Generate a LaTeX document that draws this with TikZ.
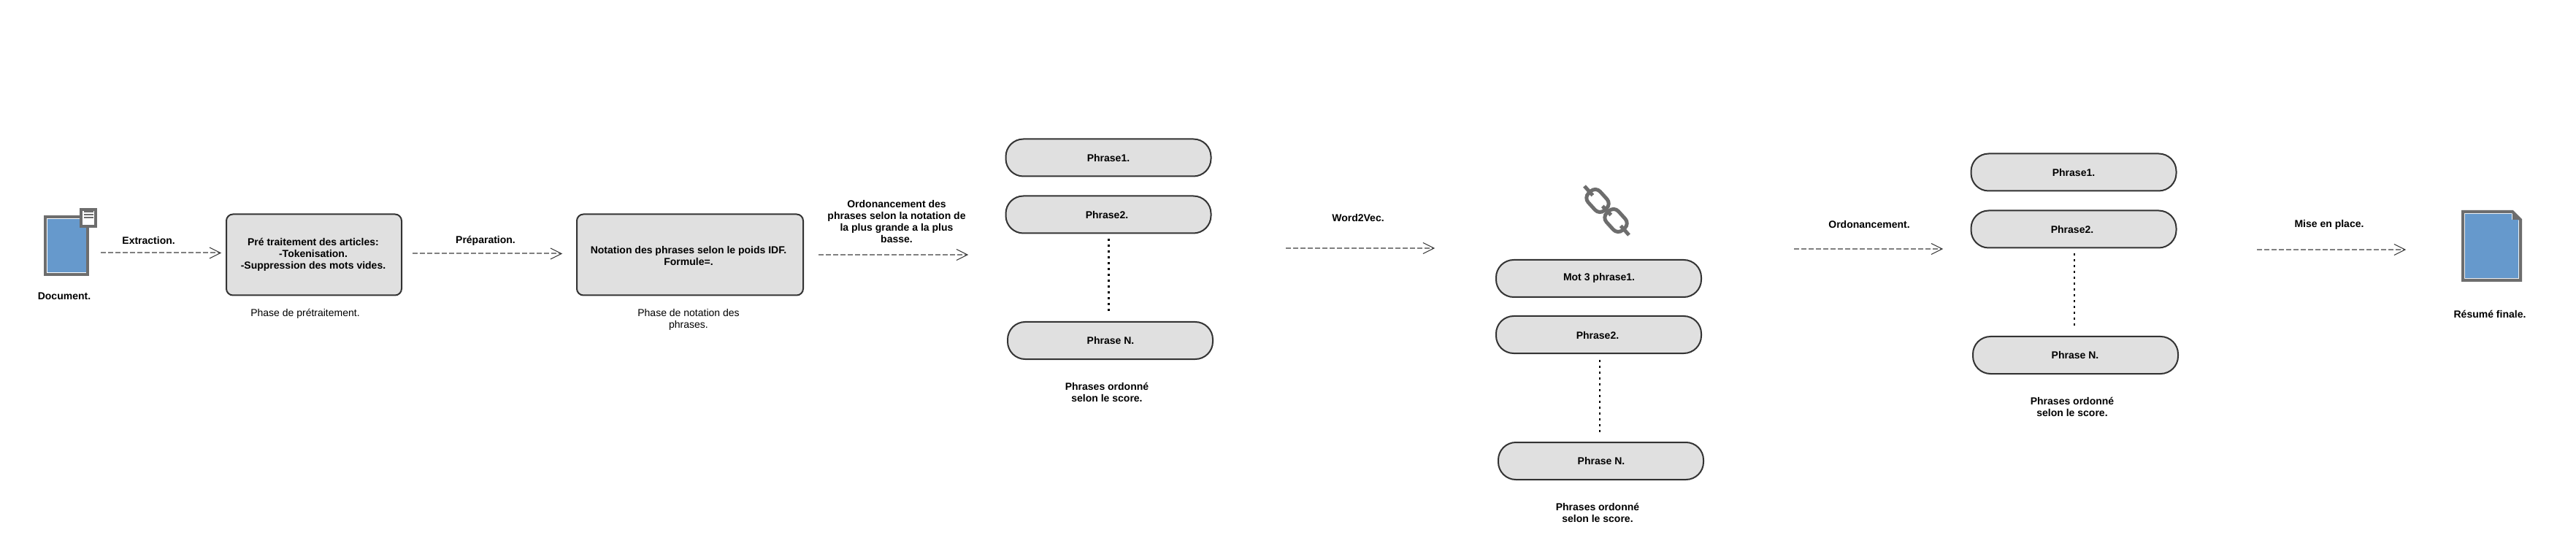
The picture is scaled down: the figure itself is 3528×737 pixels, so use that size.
\documentclass[tikz,border=0pt]{standalone}
\usepackage{fontspec}
\setmainfont{Liberation Sans}
\usetikzlibrary{arrows.meta}
\definecolor{boxfill}{HTML}{E0E0E0}
\definecolor{boxline}{HTML}{333333}
\definecolor{docblue}{HTML}{6699CC}
\definecolor{docgrey}{HTML}{6D6D6D}
\definecolor{flowgrey}{HTML}{808080}
\tikzset{
  x=0.5pt,y=-0.5pt,
  lbl/.style={font=\fontsize{7}{8}\selectfont\bfseries,align=center,inner sep=0pt,outer sep=0pt},
  captxt/.style={font=\fontsize{7}{8}\selectfont,align=center,inner sep=0pt,outer sep=0pt},
  procbox/.style={draw=boxline,fill=boxfill,line width=1pt,rounded corners=4.5pt,inner sep=0pt,outer sep=0pt,minimum height=55.5pt},
  pill/.style={draw=boxline,fill=boxfill,line width=1pt,rounded corners=12pt,inner sep=0pt,outer sep=0pt,minimum width=140.5pt,minimum height=25.5pt},
  flow/.style={draw=flowgrey,line width=1pt,dash pattern=on 3.5pt off 1.5pt,
    -{Straight Barb[length=7.5pt,width=7.5pt,color=boxline,line width=0.5pt]}},
  dotline/.style={draw=black,line width=1.2pt,dash pattern=on 1.3pt off 2.7pt},
  linkring/.style={draw=docgrey,line width=2.5pt,rounded corners=4.5pt,inner sep=0pt,outer sep=0pt,minimum width=16pt,minimum height=11pt,rotate=-47.7},
  chainbar/.style={draw=docgrey,line width=2.5pt},
  sheet/.style={draw=docgrey,line width=2pt,fill=white,inner sep=0pt,outer sep=0pt},
  sheetrule/.style={draw=docgrey,line width=0.8pt},
}
\begin{document}
\begin{tikzpicture}
\useasboundingbox (0,0) rectangle (3528,737);
\fill[white] (0,0) rectangle (3528,737);

% --- source document icon
\node[sheet,minimum width=29pt,minimum height=39.5pt] (docsrc) at (91,336.5) {};
\fill[docblue] (65,300) rectangle (118,373);
\node[sheet,minimum width=10pt,minimum height=11.5pt] (docsmall) at (121,298.5) {};
\draw[sheetrule] (114.5,290) -- (127.5,290);
\draw[sheetrule] (114.5,294) -- (127.5,294);
\draw[sheetrule] (114.5,298) -- (127.5,298);
\node[lbl] (doclbl) at (88,406) {Document.};

% --- process boxes
\node[procbox,minimum width=120pt] (pre) at (430,349) {};
\node[lbl] (pretxt) at (429,349) {Pré traitement des articles:\\-Tokenisation.\\-Suppression des mots vides.};
\node[captxt] (precap) at (418,430) {Phase de prétraitement.};

\node[procbox,minimum width=155pt] (note) at (945,349) {};
\node[lbl] (notetxt) at (943,350) {Notation des phrases selon le poids IDF.\\Formule=.};
\node[captxt] (notecap) at (943,438) {Phase de notation des\\phrases.};

% --- first list
\node[pill] (a1) at (1518,216) {};
\node[pill] (a2) at (1518,294) {};
\node[pill] (a3) at (1520.5,466.5) {};
\node[lbl] (a1t) at (1518,216) {Phrase1.};
\node[lbl] (a2t) at (1516,294) {Phrase2.};
\node[lbl] (a3t) at (1521,466) {Phrase N.};
\node[lbl] (acap) at (1516,537) {Phrases ordonné\\selon le score.};
\coordinate (a2d) at (1518.6,327);
\coordinate (a3d) at (1518.6,428);
\draw[dotline] (a2d) -- (a3d);

% --- second list
\node[pill] (b1) at (2189.5,381.5) {};
\node[pill] (b2) at (2189.5,458.5) {};
\node[pill] (b3) at (2192.5,631.5) {};
\node[lbl] (b1t) at (2190,381) {Mot 3 phrase1.};
\node[lbl] (b2t) at (2188,459) {Phrase2.};
\node[lbl] (b3t) at (2193,631) {Phrase N.};
\node[lbl] (bcap) at (2188,702) {Phrases ordonné\\selon le score.};
\coordinate (b2d) at (2190.7,493);
\coordinate (b3d) at (2190.7,592);
\draw[dotline] (b2d) -- (b3d);

% --- chain icon
\node[linkring] (link1) at (2188,275) {};
\node[linkring] (link2) at (2213,302) {};
\draw[chainbar] (2170,255) -- (2181.3,267.6);
\draw[chainbar] (2194.7,282.4) -- (2206.3,294.6);
\draw[chainbar] (2219.7,309.4) -- (2231,322);

% --- third list
\node[pill] (c1) at (2840,236) {};
\node[pill] (c2) at (2840,314) {};
\node[pill] (c3) at (2842.5,486.5) {};
\node[lbl] (c1t) at (2840,236) {Phrase1.};
\node[lbl] (c2t) at (2838,314) {Phrase2.};
\node[lbl] (c3t) at (2842,486) {Phrase N.};
\node[lbl] (ccap) at (2838,557) {Phrases ordonné\\selon le score.};
\coordinate (c2d) at (2840.7,347);
\coordinate (c3d) at (2840.7,448);
\draw[dotline] (c2d) -- (c3d);

% --- final document icon
\draw[draw=docgrey,line width=2pt,fill=white] (3373,290) -- (3441,290) -- (3452,301) -- (3452,384) -- (3373,384) -- cycle;
\fill[docblue] (3376,293) -- (3440,293) -- (3440,301) -- (3449,301) -- (3449,381) -- (3376,381) -- cycle;
\fill[docgrey] (3441,289) -- (3453,301) -- (3441,301) -- cycle;
\node[lbl] (reslbl) at (3410,430) {Résumé finale.};

% --- flow arrows
\coordinate (f1s) at (138,346.5);  \coordinate (f1e) at (303,346.5);
\coordinate (f2s) at (565,347.5);  \coordinate (f2e) at (770,347.5);
\coordinate (f3s) at (1121,349); \coordinate (f3e) at (1326,349);
\coordinate (f4s) at (1761,340); \coordinate (f4e) at (1965,340);
\coordinate (f5s) at (2457,341); \coordinate (f5e) at (2661,341);
\coordinate (f6s) at (3091,342); \coordinate (f6e) at (3295,342);
\draw[flow] (f1s) -- (f1e);
\draw[flow] (f2s) -- (f2e);
\draw[flow] (f3s) -- (f3e);
\draw[flow] (f4s) -- (f4e);
\draw[flow] (f5s) -- (f5e);
\draw[flow] (f6s) -- (f6e);
\node[lbl] (f1l) at (203.6,329) {Extraction.};
\node[lbl] (f2l) at (665,330) {Préparation.};
\node[lbl] (f3l) at (1228,303) {Ordonancement des\\phrases selon la notation de\\la plus grande a la plus\\basse.};
\node[lbl] (f4l) at (1860,298) {Word2Vec.};
\node[lbl] (f5l) at (2560,307) {Ordonancement.};
\node[lbl] (f6l) at (3190,308) {Mise en place.};
\end{tikzpicture}
\end{document}
